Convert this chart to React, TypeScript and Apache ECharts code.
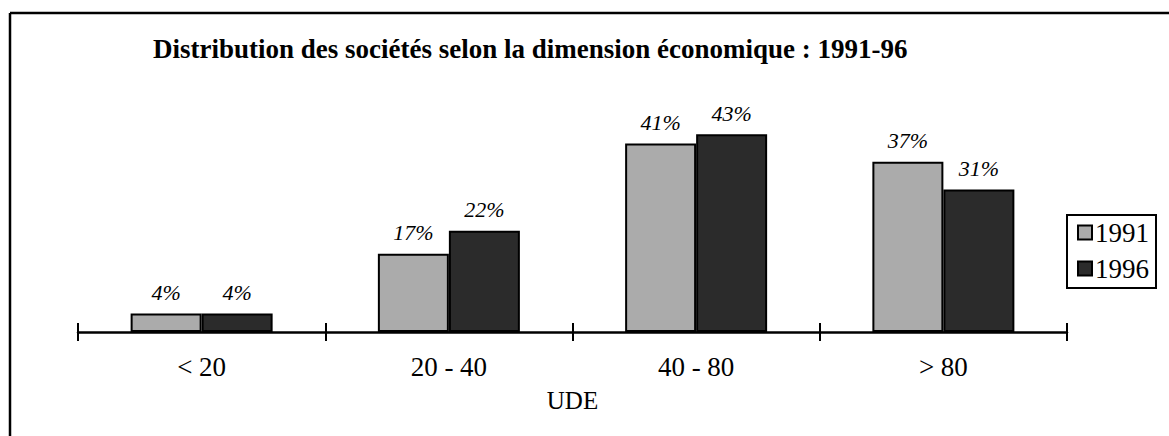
import React, { useEffect, useRef } from "react";
import * as echarts from "echarts";

const categories = ["< 20", "20 - 40", "40 - 80", "> 80"];
const values1991 = [4, 17, 41, 37];
const values1996 = [4, 22, 43, 31];
const seriesNames = ["1991", "1996"];
const titleText = "Distribution des sociétés selon la dimension économique : 1991-96";
const axisName = "UDE";

const SERIF = "'Liberation Serif', 'Times New Roman', serif";

export default function App() {
  const ref = useRef<HTMLDivElement>(null);
  useEffect(() => {
    document.body.style.margin = "0";
    const chart = echarts.init(ref.current!, null, { renderer: "svg" });
    const label = {
      show: true,
      position: "top",
      distance: 10,
      formatter: "{c}%",
      fontFamily: SERIF,
      fontStyle: "italic",
      fontSize: 22,
      color: "#000",
    };
    chart.setOption({
      animation: false,
      backgroundColor: "#fff",
      title: {
        text: titleText,
        left: 148,
        top: 30,
        textStyle: { fontFamily: SERIF, fontWeight: "bold", fontSize: 27, color: "#000" },
      },
      legend: {
        orient: "vertical",
        left: 1067,
        top: 215,
        padding: [4, 7, 6, 10],
        itemGap: 9,
        itemWidth: 14,
        itemHeight: 14,
        icon: "rect",
        borderColor: "#000",
        borderWidth: 2,
        textStyle: { fontFamily: SERIF, fontSize: 27, color: "#000", padding: [0, 0, 0, -2] },
        data: seriesNames,
      },
      grid: { left: 78, right: 102, top: 102, bottom: 104 },
      xAxis: [
        {
          type: "category",
          data: categories,
          axisLine: { lineStyle: { color: "#000", width: 2.5 } },
          axisTick: { show: true, length: 9, lineStyle: { color: "#000", width: 2 } },
          axisLabel: { fontFamily: SERIF, fontSize: 27, color: "#000", margin: 21 },
          name: axisName,
          nameLocation: "middle",
          nameGap: 56,
          nameTextStyle: { fontFamily: SERIF, fontSize: 25, color: "#000" },
        },
        {
          type: "category",
          data: categories,
          position: "bottom",
          axisLine: { show: false },
          axisTick: { show: true, inside: true, length: 9, lineStyle: { color: "#000", width: 2 } },
          axisLabel: { show: false },
        },
      ],
      yAxis: { type: "value", min: 0, max: 50, show: false, splitLine: { show: false } },
      series: [
        {
          name: seriesNames[0],
          type: "bar",
          data: values1991,
          barWidth: 71,
          barGap: "0%",
          itemStyle: { color: "#ababab", borderColor: "#000", borderWidth: 2 },
          label,
        },
        {
          name: seriesNames[1],
          type: "bar",
          data: values1996,
          barWidth: 71,
          barGap: "0%",
          itemStyle: { color: "#2b2b2b", borderColor: "#000", borderWidth: 2 },
          label,
        },
      ],
      graphic: [
        { type: "line", shape: { x1: 10, y1: 13, x2: 1169, y2: 13 }, style: { stroke: "#000", lineWidth: 2.5 } },
        { type: "line", shape: { x1: 10, y1: 13, x2: 10, y2: 436 }, style: { stroke: "#000", lineWidth: 2.5 } },
      ],
    });
    return () => chart.dispose();
  }, []);
  return <div ref={ref} style={{ width: 1169, height: 436 }} />;
}
